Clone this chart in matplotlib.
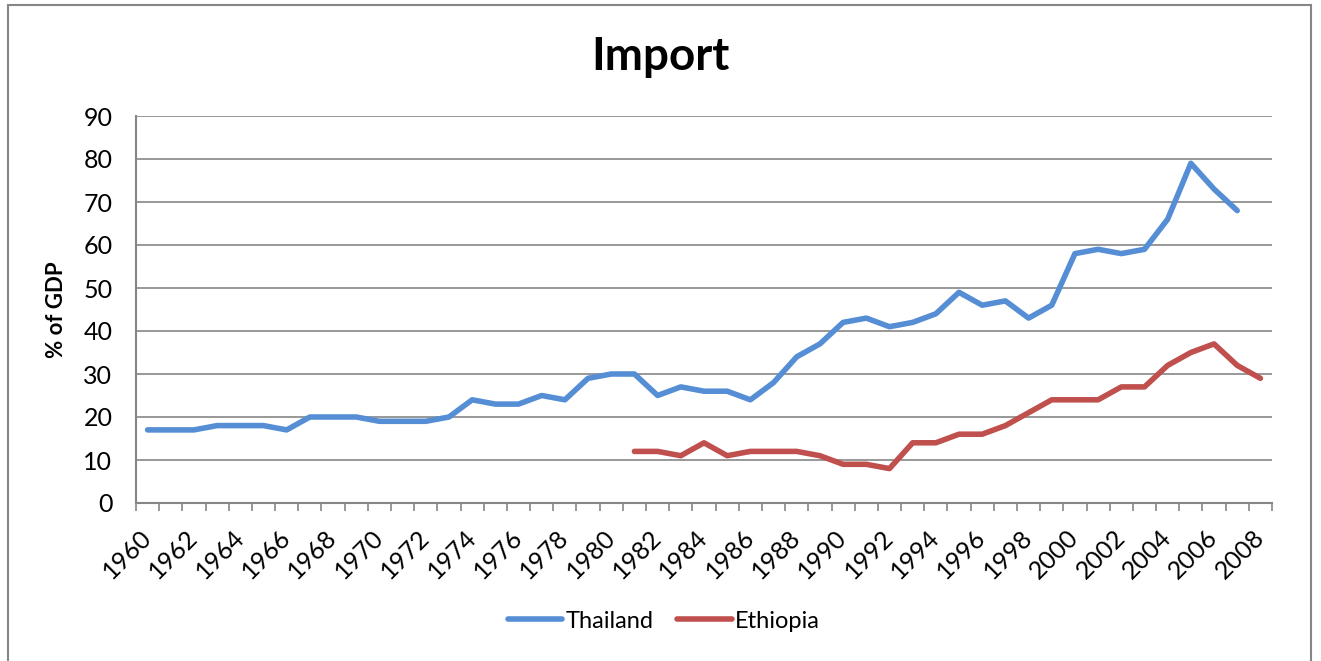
import matplotlib
matplotlib.use("Agg")
import matplotlib.pyplot as plt
import numpy as np
from matplotlib.patches import Rectangle

years = list(range(1960, 2009))
thailand = [17, 17, 17, 18, 18, 18, 17, 20, 20, 20,
            19, 19, 19, 20, 24, 23, 23, 25, 24, 29,
            30, 30, 25, 27, 26, 26, 24, 28, 34, 37,
            42, 43, 41, 42, 44, 49, 46, 47, 43, 46,
            58, 59, 58, 59, 66, 79, 73, 68, None]
ethiopia = [None] * 21 + [12, 12, 11, 14, 11, 12, 12, 12, 11,
                          9, 9, 8, 14, 14, 16, 16, 18, 21, 24,
                          24, 24, 27, 27, 32, 35, 37, 32, 29]
yticks = list(range(0, 100, 10))

plt.rcParams['font.family'] = ['Lato', 'DejaVu Sans']

W, H = 1321, 661
fig = plt.figure(figsize=(W / 100, H / 100), dpi=100)
ax = fig.add_axes([136 / W, 1 - 503 / H, (1272 - 136) / W, (503 - 116) / H])

x = np.arange(len(years))
th = np.array([np.nan if v is None else v for v in thailand], dtype=float)
et = np.array([np.nan if v is None else v for v in ethiopia], dtype=float)

ax.plot(x, th, color='#558ED5', lw=4.0, solid_joinstyle='round', solid_capstyle='round', label='Thailand')
ax.plot(x, et, color='#C0504D', lw=4.0, solid_joinstyle='round', solid_capstyle='round', label='Ethiopia')

ax.set_xlim(-0.5, len(years) - 0.5)
ax.set_ylim(0, 90)
ax.set_yticks(yticks)
ax.set_yticklabels([str(v) for v in yticks], fontsize=18)
ax.tick_params(axis='y', length=0, pad=17)
ax.grid(axis='y', color='#868686', lw=1.2)
ax.set_axisbelow(True)

# x ticks between categories (minor), labels at every 2 years
ax.set_xticks(np.arange(-0.5, len(years), 1.0), minor=True)
ax.set_xticks(x[::2])
ax.set_xticklabels([str(y) for y in years[::2]], fontsize=18, rotation=45,
                   ha='right', va='center', rotation_mode='anchor')
ax.tick_params(axis='x', which='major', length=0, pad=22)
ax.tick_params(axis='x', which='minor', length=6, color='#868686', width=1.2, direction='out')

for s in ['top', 'right']:
    ax.spines[s].set_visible(False)
for s in ['left', 'bottom']:
    ax.spines[s].set_color('#868686')
    ax.spines[s].set_linewidth(1.5)

ax.set_ylabel('% of GDP', fontsize=16, fontweight='bold', labelpad=12)
fig.text(660 / W, 1 - 57 / H, 'Import', fontsize=33, fontweight='bold', ha='center', va='center')

leg = fig.legend(loc='center', bbox_to_anchor=(664 / W, 1 - 621 / H), ncol=2, frameon=False,
                 fontsize=17, handlelength=2.3, handletextpad=0.15, columnspacing=1.0)

fig.patches.append(Rectangle((8 / W, -0.05), (1311 - 8) / W, 1.05 - 4.5 / H,
                             transform=fig.transFigure, fill=False, edgecolor='#868686', lw=1.5))

fig.savefig('out.png', dpi=100, facecolor='white')
